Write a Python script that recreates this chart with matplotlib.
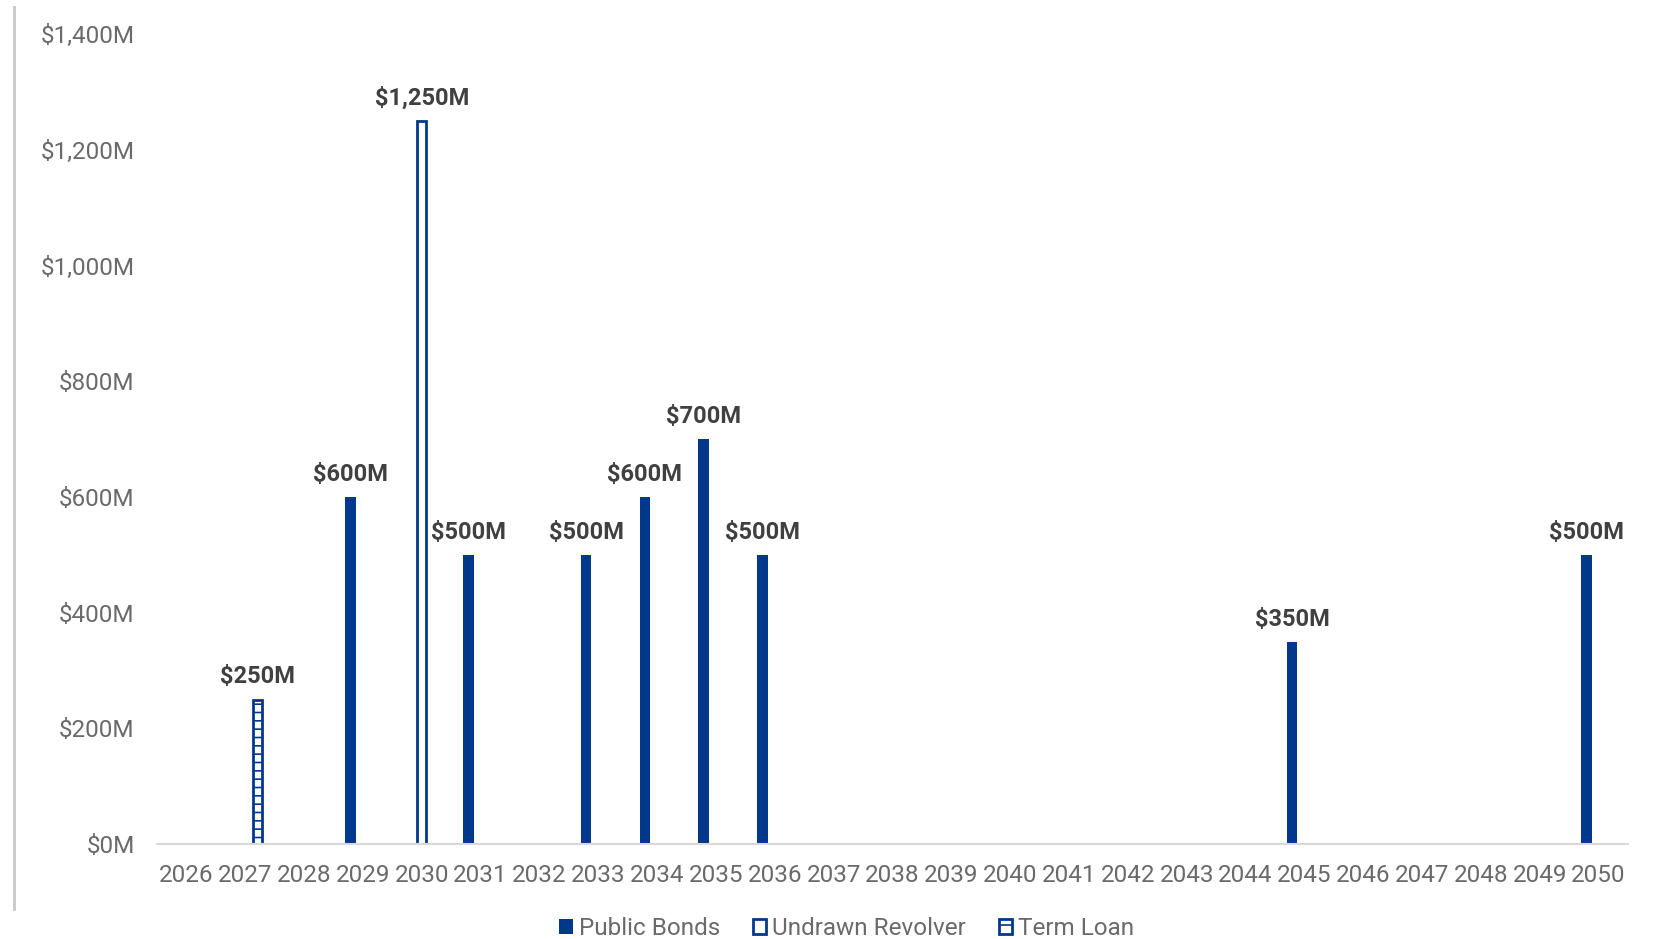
import numpy as np
import matplotlib.pyplot as plt
from matplotlib.patches import Patch
from matplotlib.lines import Line2D

plt.rcParams['font.family'] = ['Roboto', 'DejaVu Sans']
plt.rcParams['hatch.linewidth'] = 1.2

years = list(range(2026, 2051))
public_bonds = {2029: 600, 2031: 500, 2033: 500, 2034: 600, 2035: 700,
                2036: 500, 2045: 350, 2050: 500}
undrawn_revolver = {2030: 1250}
term_loan = {2027: 250}

BLUE = '#00388C'
TICK_GRAY = '#6A6A6A'
LABEL_GRAY = '#404040'


def series_values(d):
    return np.array([d.get(y, 0) for y in years], dtype=float)


def add_labels(ax, xs, vals):
    for x, v in zip(xs, vals):
        if v > 0:
            ax.annotate(f"${v:,.0f}M", (x, v), xytext=(0, 8), textcoords='offset points',
                        ha='center', va='bottom', fontsize=17, fontweight='bold',
                        color=LABEL_GRAY)


def main():
    fig = plt.figure(figsize=(16.57, 9.39), dpi=100)
    ax = fig.add_axes([0.0948, 0.101, 0.8877, 0.8627])

    x = np.arange(len(years))
    w = 0.18
    off = 0.21

    pb = series_values(public_bonds)
    rv = series_values(undrawn_revolver)
    tl = series_values(term_loan)

    ax.bar(x - off, pb, width=w, color=BLUE, edgecolor=BLUE, linewidth=0)
    ax.bar(x, rv, width=w - 0.03, facecolor='white', edgecolor=BLUE, linewidth=2)
    ax.bar(x + off, tl, width=w - 0.03, facecolor='white', edgecolor=BLUE,
           linewidth=2, hatch='--')

    add_labels(ax, x - off, pb)
    add_labels(ax, x, rv)
    add_labels(ax, x + off, tl)

    ax.set_xlim(-0.5, len(years) - 0.5)
    ax.set_ylim(0, 1400)
    ax.set_yticks(np.arange(0, 1401, 200))
    ax.set_yticklabels([f"${v:,.0f}M" for v in range(0, 1401, 200)])
    ax.set_xticks(x)
    ax.set_xticklabels([str(y) for y in years])

    for s in ['top', 'right', 'left']:
        ax.spines[s].set_visible(False)
    ax.spines['bottom'].set_color('#D9D9D9')
    ax.spines['bottom'].set_linewidth(1.5)
    ax.tick_params(axis='both', length=0, labelsize=17.5, labelcolor=TICK_GRAY)
    ax.tick_params(axis='y', pad=16)
    ax.tick_params(axis='x', pad=14.5)

    handles = [
        Patch(facecolor=BLUE, edgecolor=BLUE, linewidth=0),
        Patch(facecolor='white', edgecolor=BLUE, linewidth=2),
        Patch(facecolor='white', edgecolor=BLUE, linewidth=2, hatch='-'),
    ]
    leg = fig.legend(handles, ['Public Bonds', 'Undrawn Revolver', 'Term Loan'],
                     loc='center', bbox_to_anchor=(0.511, 0.011), ncol=3, frameon=False,
                     fontsize=17.5, handlelength=0.55, handleheight=0.55,
                     handletextpad=0.25, columnspacing=1.35)
    for t in leg.get_texts():
        t.set_color(TICK_GRAY)

    # thin gray rule on the left edge
    fig.add_artist(Line2D([14 / 1657, 14 / 1657], [1 - 909 / 939, 1 - 7 / 939],
                          transform=fig.transFigure, color='#C8C8C8', linewidth=2))

    fig.savefig('out.png', dpi=100)


if __name__ == '__main__':
    main()
